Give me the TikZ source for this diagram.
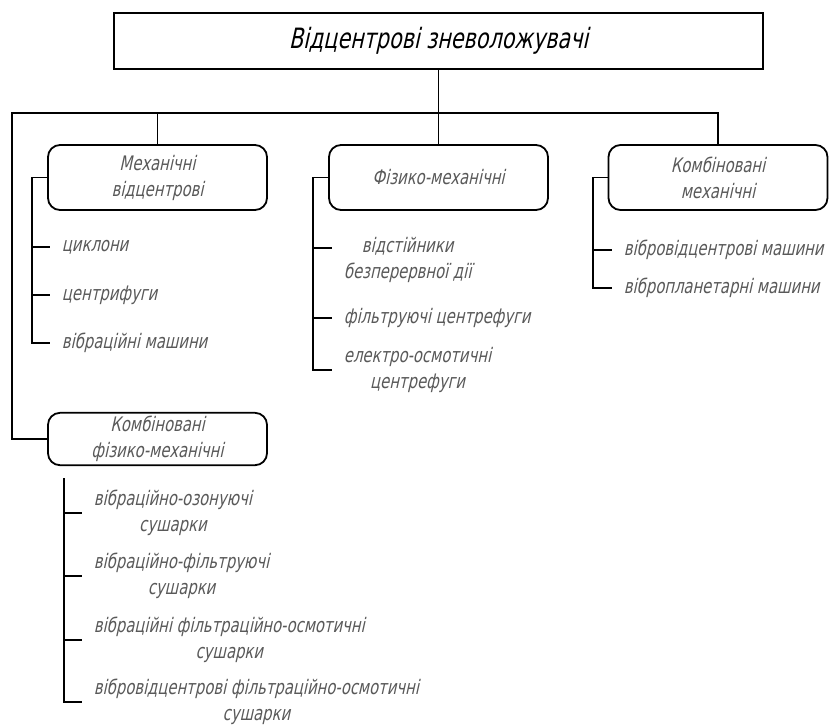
\documentclass[tikz,border=0pt]{standalone}
\usepackage{fontspec}
\setmainfont{DejaVu Sans}[FakeStretch=0.74,FakeSlant=0.22]
\begin{document}
\begin{tikzpicture}[x=1pt,y=-1pt,line width=1.8pt,
    head/.style={draw,rectangle,minimum width=649pt,minimum height=56pt,
      font=\fontsize{28}{32}\selectfont},
    group/.style={draw,rounded corners=12pt,minimum width=219pt,
      minimum height=65pt,align=center,text=black!65,
      font=\fontsize{20}{26}\selectfont},
    item/.style={anchor=west,inner xsep=11pt,inner ysep=0pt,align=center,
      text=black!65,font=\fontsize{20}{26}\selectfont}]
  \useasboundingbox (0,0) rectangle (835,724);%

  \node[head] (top) at (438.5,41) {Відцентрові зневоложувачі};%

  \node[group] (mech) at (157.5,177.5) {Механічні\\відцентрові};%
  \node[group] (phys) at (438.5,177.5) {Фізико-механічні};%
  \node[group] (cmech) at (718,177.5) {Комбіновані\\механічні};%
  \node[group,minimum height=52pt] (cphys) at (157.5,439) {Комбіновані\\фізико-механічні};%

  \node[item] (m1) at (50,247) {циклони};%
  \node[item] (m2) at (50,295) {центрифуги};%
  \node[item] (m3) at (50,343) {вібраційні машини};%

  \node[item] (p1) at (332,260) {відстійники\\безперервної дії};%
  \node[item] (p2) at (332,318) {фільтруючі центрефуги};%
  \node[item] (p3) at (332,370) {електро-осмотичні\\центрефуги};%

  \node[item] (k1) at (612,250) {вібровідцентрові машини};%
  \node[item] (k2) at (612,288) {вібропланетарні машини};%

  \node[item] (c1) at (82,513) {вібраційно-озонуючі\\сушарки};%
  \node[item] (c2) at (82,576) {вібраційно-фільтруючі\\сушарки};%
  \node[item] (c3) at (82,640) {вібраційні фільтраційно-осмотичні\\сушарки};%
  \node[item] (c4) at (82,702) {вібровідцентрові фільтраційно-осмотичні\\сушарки};%

  \coordinate (bus) at (12,113);%
  \draw (top.south) -- (phys.north);%
  \draw (cphys.west) -| (bus) -| (cmech.north);%
  \draw (mech.north) -- (mech.north |- bus);%

  \coordinate (mbar) at (32,0);%
  \draw (mech.west) -| (mbar |- m3.west) -- (m3.west);%
  \draw (mbar |- m1.west) -- (m1.west);%
  \draw (mbar |- m2.west) -- (m2.west);%

  \coordinate (pbar) at (313,0);%
  \draw (phys.west) -| (pbar |- p3.west) -- (p3.west);%
  \draw (pbar |- p1.west) ++(0,-12) -- ([yshift=12pt]p1.west);%
  \draw (pbar |- p2.west) -- (p2.west);%

  \coordinate (kbar) at (593,0);%
  \draw (cmech.west) -| (kbar |- k2.west) -- (k2.west);%
  \draw (kbar |- k1.west) -- (k1.west);%

  \coordinate (cbar) at (64,478);%
  \draw (cbar) -- (cbar |- c4.west) -- (c4.west);%
  \draw (cbar |- c1.west) -- (c1.west);%
  \draw (cbar |- c2.west) -- (c2.west);%
  \draw (cbar |- c3.west) -- (c3.west);%
\end{tikzpicture}
\end{document}
